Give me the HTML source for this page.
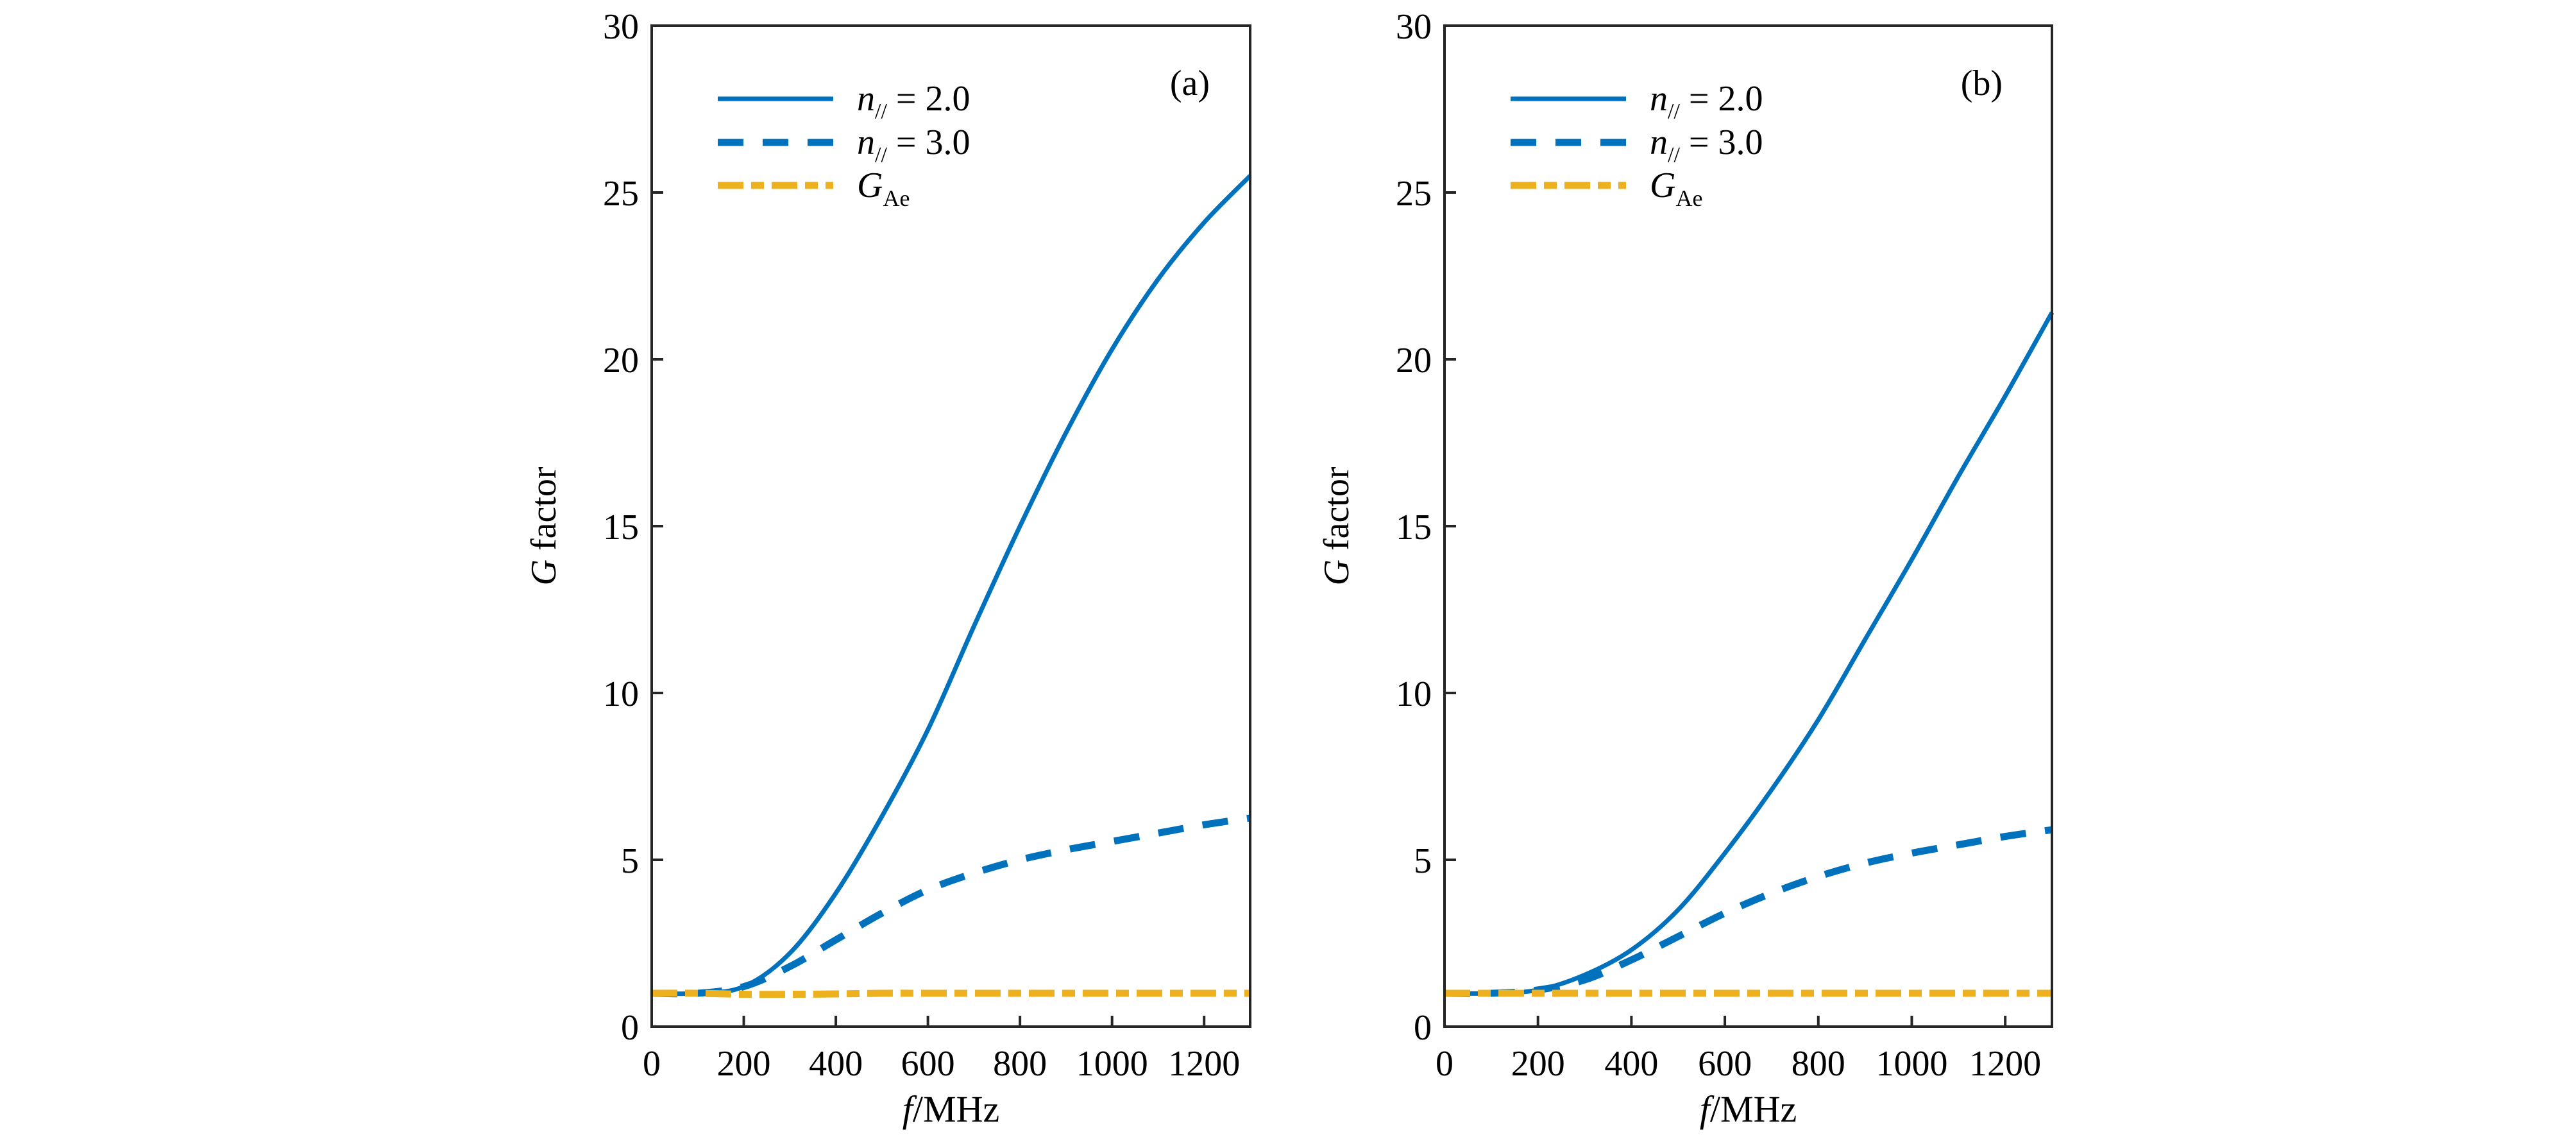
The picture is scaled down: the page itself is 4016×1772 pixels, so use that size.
<!DOCTYPE html>
<html><head><meta charset="utf-8">
<style>
html,body{margin:0;padding:0;background:#fff;}
svg{display:block;font-family:"Liberation Serif",serif;}
</style></head>
<body>
<svg id="chart" width="4016" height="1772" viewBox="0 0 4016 1772" xmlns="http://www.w3.org/2000/svg"></svg>
<script>
const xTicks = [0,200,400,600,800,1000,1200];
const yTicks = [0,5,10,15,20,25,30];
const freqs = [0,100,200,300,400,500,600,700,800,900,1000,1100,1200,1300];
const solidA = [1.0,1.0,1.2,2.2,4.0,6.3,8.9,12.0,15.0,17.8,20.3,22.4,24.1,25.5];
const dashA  = [1.0,1.0,1.2,1.8,2.6,3.4,4.1,4.6,5.0,5.3,5.55,5.8,6.05,6.25];
const gaeA   = [1.0,1.0,0.97,0.97,0.98,1.0,1.0,1.0,1.0,1.0,1.0,1.0,1.0,1.0];
const solidB = [1.0,1.0,1.1,1.55,2.3,3.5,5.2,7.1,9.2,11.6,14.0,16.5,18.9,21.4];
const dashB  = [1.0,1.0,1.1,1.4,2.0,2.7,3.4,4.0,4.5,4.9,5.2,5.45,5.7,5.9];
const gaeB   = [1.0,1.0,1.0,1.0,1.0,1.0,1.0,1.0,1.0,1.0,1.0,1.0,1.0,1.0];
const panelLabels = ["(a)","(b)"];

const NS="http://www.w3.org/2000/svg";
const svg=document.getElementById('chart');
function mk(tag,attrs,parent){const e=document.createElementNS(NS,tag);for(const k in attrs)e.setAttribute(k,attrs[k]);(parent||svg).appendChild(e);return e;}

function smoothPath(pts){
  let d=`M${pts[0][0]},${pts[0][1]}`;
  for(let i=0;i<pts.length-1;i++){
    const p0=pts[Math.max(0,i-1)],p1=pts[i],p2=pts[i+1],p3=pts[Math.min(pts.length-1,i+2)];
    const c1x=p1[0]+(p2[0]-p0[0])/6,c1y=p1[1]+(p2[1]-p0[1])/6;
    const c2x=p2[0]-(p3[0]-p1[0])/6,c2y=p2[1]-(p3[1]-p1[1])/6;
    d+=` C${c1x},${c1y} ${c2x},${c2y} ${p2[0]},${p2[1]}`;
  }
  return d;
}

function panel(idx,L,R,series){
  const T=40,B=1600;
  const g=mk('g',{});
  
  
  const xs=v=>L+(v/1300)*(R-L);
  const ys=v=>B-(v/30)*(B-T);
  const blue='#0072bd',gold='#edb120';
  const styles=[
    {c:blue,w:7,dash:null,name:'line-n2'},
    {c:blue,w:11,dash:'40 30',name:'line-n3'},
    {c:gold,w:11,dash:'40 12 20 12',name:'line-gae'}
  ];
  series.forEach((s,i)=>{
    const pts=freqs.map((f,j)=>[xs(f),ys(s[j])]);
    const p=mk('path',{d:smoothPath(pts),fill:'none',stroke:styles[i].c,'stroke-width':styles[i].w},g);
    if(styles[i].dash)p.setAttribute('stroke-dasharray',styles[i].dash);
    
    
  });
  const box=mk('rect',{x:L,y:T,width:R-L,height:B-T,fill:'none',stroke:'#262626','stroke-width':4},g);
  
  
  xTicks.forEach(t=>{
    mk('line',{x1:xs(t),x2:xs(t),y1:B,y2:B-17,stroke:'#262626','stroke-width':4},g);
    const tx=mk('text',{x:xs(t),y:B+76,'font-size':56,'text-anchor':'middle',fill:'#000'},g);
    tx.textContent=t;
    
    
  });
  yTicks.forEach(t=>{
    mk('line',{x1:L,x2:L+18,y1:ys(t),y2:ys(t),stroke:'#262626','stroke-width':4},g);
    const tx=mk('text',{x:L-20,y:ys(t)+20,'font-size':56,'text-anchor':'end',fill:'#000'},g);
    tx.textContent=t;
    
    
  });
  const yt=mk('text',{x:0,y:0,'font-size':56,'text-anchor':'middle',transform:`translate(${L-150},${820}) rotate(-90)`},g);
  yt.innerHTML='<tspan font-style="italic">G</tspan> factor';
  
  
  const xt=mk('text',{x:(L+R)/2,y:1748,'font-size':58,'text-anchor':'middle'},g);
  xt.innerHTML='<tspan font-style="italic">f</tspan>/MHz';
  
  
  const pl=mk('text',{x:L+870,y:148,'font-size':56,'text-anchor':'end'},g);
  pl.textContent=panelLabels[idx];
  
  
  const lx=L+103, ly=[154,222,289];
  const labels=['<tspan font-style="italic">n</tspan><tspan font-size="34" dy="12">//</tspan><tspan dy="-12"> = 2.0</tspan>',
    '<tspan font-style="italic">n</tspan><tspan font-size="34" dy="12">//</tspan><tspan dy="-12"> = 3.0</tspan>',
    '<tspan font-style="italic">G</tspan><tspan font-size="36" dy="14">Ae</tspan>'];
  styles.forEach((s,i)=>{
    const le=mk('g',{},g);
    
    
    const ln=mk('line',{x1:lx,x2:lx+180,y1:ly[i],y2:ly[i],stroke:s.c,'stroke-width':s.w},le);
    if(s.dash)ln.setAttribute('stroke-dasharray',i===1?'40 30':'40 12 20 12');
    const t=mk('text',{x:lx+217,y:ly[i]+18,'font-size':56},le);
    t.innerHTML=labels[i];
  });
}
panel(0,1016,1949,[solidA,dashA,gaeA]);
panel(1,2252,3199,[solidB,dashB,gaeB]);
</script>
</body></html>
